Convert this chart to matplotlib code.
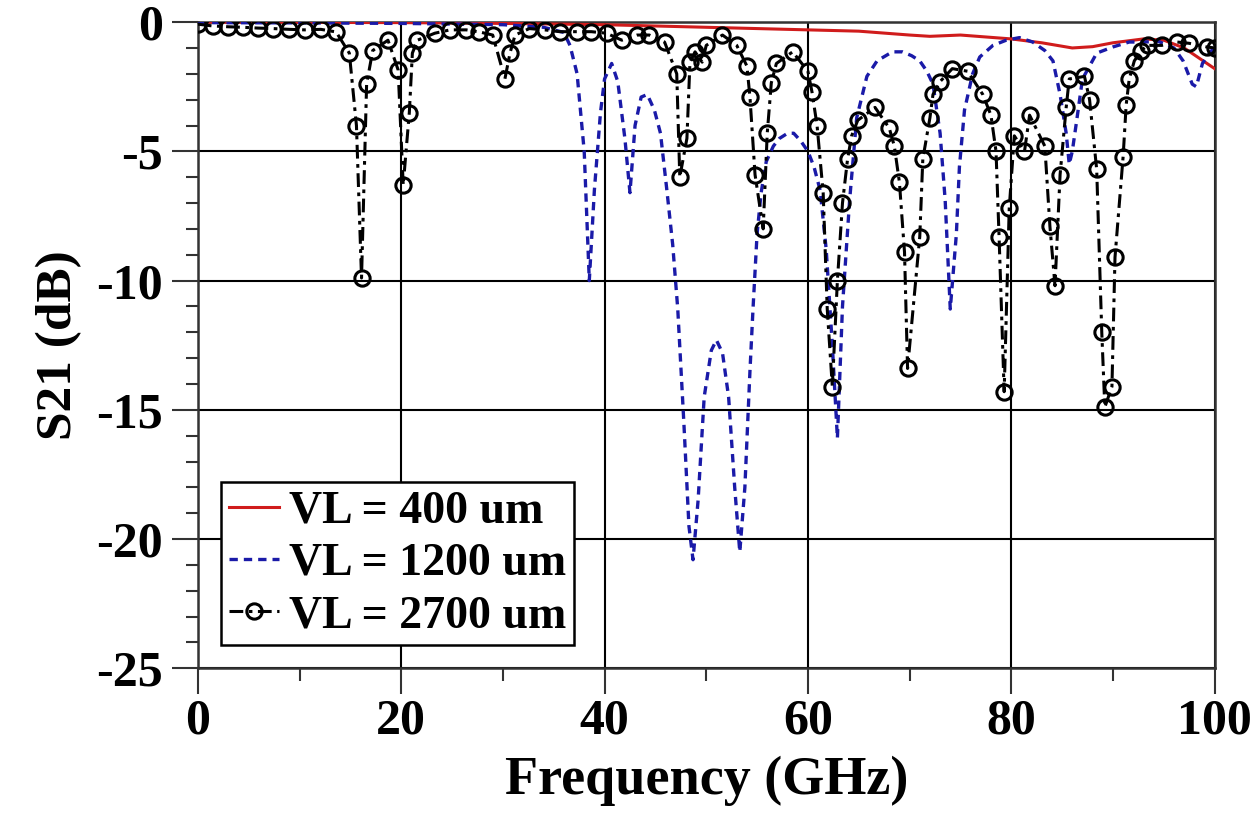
import matplotlib
matplotlib.use("Agg")
import matplotlib.pyplot as plt
import numpy as np

# VL = 400 um
freq_400 = [0, 10, 20, 30, 40, 50, 55, 60, 65, 70, 72, 75, 80, 83, 86, 88, 90, 93, 95, 97, 100]
s21_400 = [0, -0.01, -0.02, -0.05, -0.1, -0.2, -0.25, -0.3, -0.35, -0.5, -0.55, -0.5,
           -0.65, -0.8, -1.0, -0.95, -0.8, -0.65, -0.7, -1.0, -1.8]

# VL = 1200 um
freq_1200 = [0, 10, 20, 30, 34, 36.0, 36.6, 37.3, 38.0, 38.5, 39.0, 39.6, 40.0, 40.7, 41.3,
             42.0, 42.5, 43.0, 43.6, 44.2, 44.9, 45.5, 46.1, 46.7, 47.2, 47.8, 48.3, 48.7,
             49.2, 49.8, 50.5, 51.0, 51.6, 52.2, 52.8, 53.3, 53.8, 54.3, 54.6, 55.0, 55.4,
             55.9, 56.6, 57.2, 58.0, 58.6, 59.3, 60.0, 60.6, 61.2, 61.8, 62.4, 62.9, 63.4,
             64.1, 64.8, 65.8, 66.8, 68.3, 69.3, 70.2, 71.0, 71.7, 72.3, 73.0, 73.5, 74.0,
             74.6, 74.9, 75.4, 76.2, 76.9, 78.2, 79.5, 80.8, 82.1, 83.3, 84.1, 84.8, 85.4,
             85.7, 86.0, 86.4, 87.0, 88.4, 90.0, 91.6, 92.9, 94.5, 96.0, 96.9, 97.8, 98.2,
             98.8, 99.7, 100]
s21_1200 = [-0.02, -0.03, -0.05, -0.1, -0.2, -0.4, -0.9, -2.0, -5.0, -10.0, -6.5, -3.5,
            -2.2, -1.6, -2.3, -4.5, -6.6, -4.0, -2.9, -2.8, -3.4, -4.3, -6.4, -8.6, -11.1,
            -15.5, -19.5, -20.8, -18.5, -14.5, -12.7, -12.3, -12.8, -14.5, -18.0, -20.5,
            -18.0, -13.5, -11.1, -8.2, -6.6, -5.4, -4.8, -4.5, -4.3, -4.3, -4.6, -5.0, -5.6,
            -6.5, -8.8, -12.5, -16.1, -11.0, -6.9, -3.7, -2.1, -1.5, -1.15, -1.15, -1.3,
            -1.5, -1.9, -2.4, -4.3, -6.9, -11.1, -8.2, -5.6, -3.4, -2.0, -1.35, -0.9, -0.7,
            -0.6, -0.77, -1.1, -1.5, -2.8, -4.3, -5.5, -5.0, -3.9, -2.2, -1.2, -0.96, -0.77,
            -0.77, -0.75, -1.0, -1.5, -2.4, -2.5, -1.6, -1.1, -1.0]

# VL = 2700 um
freq_2700 = [0.0, 1.5, 3.0, 4.4, 5.9, 7.4, 9.0, 10.5, 12.1, 13.6, 14.9, 15.6, 16.1, 16.6,
             17.2, 18.7, 19.7, 20.2, 20.8, 21.1, 21.6, 23.3, 24.8, 26.4, 27.7, 29.0, 30.2,
             30.7, 31.2, 32.6, 34.1, 35.6, 37.3, 38.7, 40.2, 41.7, 43.2, 44.4, 45.9, 47.1,
             47.4, 48.1, 48.4, 48.9, 49.6, 50.0, 51.6, 53.0, 54.0, 54.3, 54.8, 55.6, 56.0,
             56.4, 56.9, 58.5, 60.0, 60.4, 60.9, 61.5, 61.9, 62.4, 62.9, 63.4, 63.9, 64.3,
             64.9, 66.6, 68.0, 68.5, 69.0, 69.5, 69.8, 71.0, 71.3, 72.0, 72.3, 73.0, 74.2,
             75.7, 77.2, 78.0, 78.5, 78.8, 79.3, 79.8, 80.3, 81.3, 81.8, 83.3, 83.8, 84.3,
             84.8, 85.4, 85.7, 87.2, 87.7, 88.4, 88.9, 89.2, 89.9, 90.2, 91.0, 91.3, 91.6,
             92.1, 92.8, 93.4, 94.8, 96.3, 97.5, 99.2, 100]
s21_2700 = [-0.08, -0.15, -0.18, -0.2, -0.23, -0.25, -0.28, -0.3, -0.28, -0.38, -1.2, -4.0,
            -9.9, -2.4, -1.1, -0.7, -1.85, -6.3, -3.5, -1.2, -0.7, -0.43, -0.3, -0.3, -0.38,
            -0.5, -2.2, -1.2, -0.5, -0.25, -0.3, -0.37, -0.37, -0.37, -0.43, -0.7, -0.5,
            -0.5, -0.77, -2.0, -6.0, -4.5, -1.55, -1.15, -1.55, -0.9, -0.5, -0.9, -1.7, -2.9,
            -5.9, -8.0, -4.3, -2.35, -1.6, -1.15, -1.9, -2.7, -4.0, -6.6, -11.1, -14.1,
            -10.0, -7.0, -5.3, -4.4, -3.8, -3.3, -4.1, -4.8, -6.2, -8.9, -13.4, -8.3, -5.3,
            -3.7, -2.8, -2.3, -1.8, -1.9, -2.8, -3.6, -5.0, -8.3, -14.3, -7.2, -4.4, -5.0,
            -3.6, -4.8, -7.9, -10.2, -5.9, -3.3, -2.2, -2.1, -3.0, -5.7, -12.0, -14.9,
            -14.1, -9.1, -5.2, -3.2, -2.2, -1.5, -1.1, -0.9, -0.9, -0.77, -0.82, -0.96, -1.0]

labels = ["VL = 400 um", "VL = 1200 um", "VL = 2700 um"]

plt.rcParams["font.family"] = ["Liberation Serif", "DejaVu Serif"]
plt.rcParams["font.weight"] = "bold"
plt.rcParams["axes.unicode_minus"] = False

fig = plt.figure(figsize=(12.6, 8.19), dpi=100)
ax = fig.add_axes([0.157, 0.184, 0.807, 0.789])

ax.plot(freq_400, s21_400, color="#d01c1c", lw=2.2, label=labels[0], zorder=3)
ax.plot(freq_1200, s21_1200, color="#1a1aa8", lw=2.4, dashes=(2.5, 1.8),
        label=labels[1], zorder=4)
ax.plot(freq_2700, s21_2700, color="black", lw=2.2, dashes=(4.5, 1.8, 1.2, 1.8),
        marker="o", ms=11, mfc="none", mec="black", mew=2.2,
        label=labels[2], zorder=5)

ax.set_xlim(0, 100)
ax.set_ylim(-25, 0)
ax.set_xticks(np.arange(0, 101, 20))
ax.set_xticks(np.arange(10, 100, 20), minor=True)
ax.set_yticks(np.arange(-25, 1, 5))
ax.set_yticks(np.arange(-25, 1, 1), minor=True)

ax.grid(True, which="major", color="black", lw=1.5)
ax.set_axisbelow(True)

for s in ax.spines.values():
    s.set_color("#333333")
    s.set_linewidth(1.8)

ax.tick_params(which="major", direction="out", length=19, width=1.5, pad=3,
               labelsize=36, color="#333333")
ax.tick_params(which="minor", direction="out", length=9, width=1.5, color="#333333")
ax.tick_params(axis="y", which="major", pad=6)
ax.tick_params(top=False, right=False)

ax.set_xlabel("Frequency (GHz)", fontsize=39, fontweight="bold", labelpad=8)
ax.set_ylabel("S21 (dB)", fontsize=37, fontweight="bold", labelpad=10)

leg = ax.legend(loc="lower left", bbox_to_anchor=(0.0226, 0.0356), borderaxespad=0,
                fontsize=33, handlelength=1.1, handletextpad=0.2, labelspacing=0.22,
                borderpad=0.18, fancybox=False, framealpha=1, edgecolor="black")
leg.get_frame().set_linewidth(1.8)
for t in leg.get_texts():
    t.set_fontweight("bold")

fig.savefig("out.png", dpi=100)
